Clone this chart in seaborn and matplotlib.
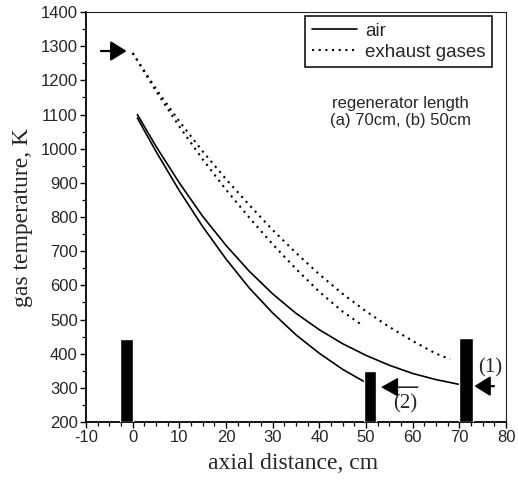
import numpy as np
import pandas as pd
import matplotlib
matplotlib.use("Agg")
import matplotlib.pyplot as plt
from matplotlib.ticker import MultipleLocator
import seaborn as sns

# Air temperature along the regenerator, (a) 70 cm and (b) 50 cm
air_a_x = [1, 5, 10, 15, 20, 25, 30, 35, 40, 45, 50, 55, 60, 65, 70]
air_a_t = [1100, 1007, 900, 802, 717, 641, 575, 518, 470, 429, 395, 366, 342, 324, 310]
air_b_x = [1, 5, 10, 15, 20, 25, 30, 35, 40, 45, 50]
air_b_t = [1090, 992, 877, 772, 677, 592, 519, 455, 401, 354, 315]

# Exhaust gas temperature, (a) 70 cm and (b) 50 cm
gas_a_x = [0, 5, 10, 15, 20, 25, 30, 35, 40, 45, 50, 55, 60, 65, 68]
gas_a_t = [1280, 1175, 1080, 992, 911, 835, 762, 695, 632, 575, 524, 478, 437, 400, 384]
gas_b_x = [0, 5, 10, 15, 20, 25, 30, 35, 40, 45, 49]
gas_b_t = [1280, 1169, 1065, 969, 880, 798, 720, 648, 581, 523, 485]

# Regenerator ends (solid blocks): left edge, width, top temperature
block_x = [-2.7, 49.6, 69.9]
block_w = [2.7, 2.5, 3.0]
block_top = [442, 349, 445]
axis_floor = 200

sns.set_style("ticks")
plt.rcParams["font.family"] = ["Liberation Sans", "DejaVu Sans"]
plt.rcParams["axes.unicode_minus"] = False

fig = plt.figure(figsize=(5.18, 4.82), dpi=100)
ax = fig.add_axes([0.166, 0.1245, 0.811, 0.8505])

sns.lineplot(x=air_a_x, y=air_a_t, ax=ax, color="black", lw=1.2, label="air")
sns.lineplot(x=air_b_x, y=air_b_t, ax=ax, color="black", lw=1.2)
sns.lineplot(x=gas_a_x, y=gas_a_t, ax=ax, color="black", lw=1.5,
             linestyle=(0, (1, 2.2)), label="exhaust gases")
sns.lineplot(x=gas_b_x, y=gas_b_t, ax=ax, color="black", lw=1.5,
             linestyle=(0, (1, 2.2)))

ax.bar(block_x, [t - axis_floor for t in block_top], width=block_w,
       bottom=axis_floor, align="edge", color="black", zorder=3)

ax.set_xlim(-10, 80)
ax.set_ylim(200, 1400)
ax.xaxis.set_major_locator(MultipleLocator(10))
ax.xaxis.set_minor_locator(MultipleLocator(2.5))
ax.yaxis.set_major_locator(MultipleLocator(100))
ax.yaxis.set_minor_locator(MultipleLocator(50))
ax.tick_params(axis="both", which="major", direction="out", length=4,
               width=1.0, labelsize=12, color="black", pad=2)
ax.tick_params(axis="both", which="minor", direction="out", length=3,
               width=0.9, color="black")

for side in ["left", "bottom"]:
    ax.spines[side].set_linewidth(1.3)
    ax.spines[side].set_color("black")
for side in ["top", "right"]:
    ax.spines[side].set_visible(True)
    ax.spines[side].set_linewidth(0.8)
    ax.spines[side].set_color("#222222")

serif = ["Liberation Serif", "DejaVu Serif"]
ax.set_xlabel("axial distance, cm", family=serif, fontsize=17)
ax.set_ylabel("gas temperature, K", family=serif, fontsize=17)
ax.xaxis.set_label_coords(0.492, -0.075)
ax.yaxis.set_label_coords(-0.126, 0.5)

leg = ax.legend(loc="upper right", bbox_to_anchor=(0.967, 0.99),
                borderaxespad=0, fontsize=13.5, frameon=True, fancybox=False,
                edgecolor="black", framealpha=1, handlelength=2.4,
                handletextpad=0.45, labelspacing=0.2, borderpad=0.35)
leg.get_frame().set_linewidth(1.1)

ax.text(57.3, 1107, "regenerator length\n(a) 70cm, (b) 50cm", ha="center",
        va="center", fontsize=12, linespacing=1.2)

arrow_heavy = dict(arrowstyle="-|>,head_length=0.8,head_width=0.5",
                   color="black", lw=1.6, mutation_scale=12,
                   shrinkA=0, shrinkB=0)
arrow_light = dict(arrowstyle="-|>,head_length=0.9,head_width=0.5",
                   color="black", lw=1.0, mutation_scale=12,
                   shrinkA=0, shrinkB=0)
ax.annotate("", xy=(-1.3, 1286), xytext=(-6.8, 1286), arrowprops=arrow_heavy)
ax.annotate("", xy=(53.2, 302), xytext=(61.1, 302), arrowprops=arrow_light)
ax.annotate("", xy=(73.2, 305), xytext=(77.4, 305), arrowprops=arrow_heavy)

ax.text(58.4, 253, "(2)", family=serif, fontsize=15, ha="center", va="center")
ax.text(76.6, 358, "(1)", family=serif, fontsize=15, ha="center", va="center")

fig.savefig("out.png", dpi=100)
